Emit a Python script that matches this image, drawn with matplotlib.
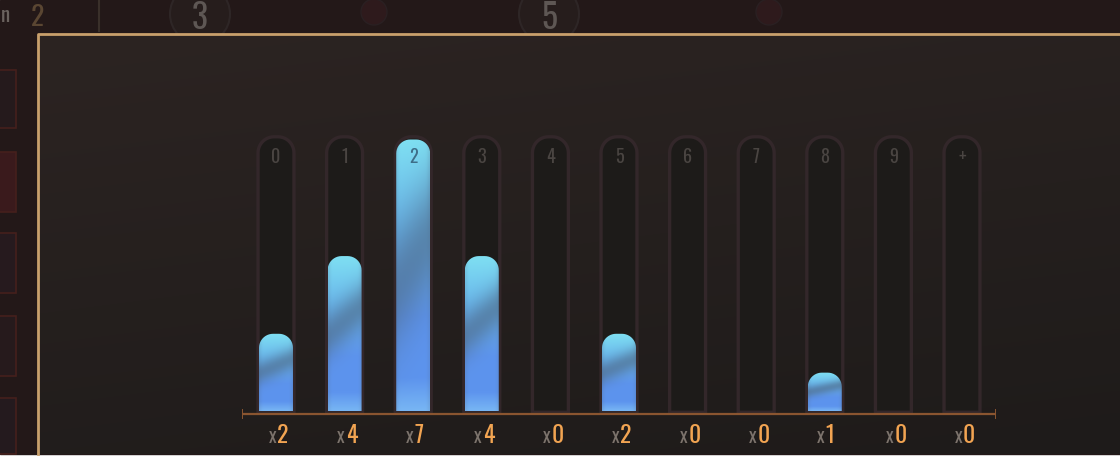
import numpy as np
import matplotlib
matplotlib.use("Agg")
import matplotlib.pyplot as plt
from matplotlib.patches import Polygon, Circle, Rectangle
from matplotlib.colors import to_rgb
import logging
logging.getLogger("matplotlib.font_manager").setLevel(logging.ERROR)

# mana curve data
costs = ["0", "1", "2", "3", "4", "5", "6", "7", "8", "9", "+"]
counts = [2, 4, 7, 4, 0, 2, 0, 0, 1, 0, 0]
max_count = max(counts)

W, H = 1120, 468
NARROW = ["Oswald", "Sofia Sans Extra Condensed", "DejaVu Sans"]

fig = plt.figure(figsize=(W / 100, H / 100), dpi=100)
fig.patch.set_facecolor("white")

# background layer in pixel coordinates
bg = fig.add_axes([0, 0, 1, 1])
bg.set_xlim(0, W)
bg.set_ylim(H, 0)
bg.axis("off")

bg.add_patch(Rectangle((0, 0), W, 454, color="#231818", zorder=0))

# left strip boxes (ui behind the panel)
for y0, y1, fc in [(70, 128, "#251a1c"), (152, 212, "#3a1a1c"), (233, 293, "#261a1e"),
                   (316, 376, "#261a1c"), (398, 454, "#241a1e")]:
    bg.add_patch(Rectangle((-2, y0), 18, y1 - y0, facecolor=fc, edgecolor="#45201c", lw=1.2, zorder=1))
bg.text(5, 15, "n", color="#6a625e", fontsize=15, ha="center", va="center", family=NARROW)
bg.text(38, 17, "2", color="#5a4632", fontsize=20, ha="center", va="center", family=NARROW)
bg.plot([99, 99], [0, 31], color="#3a302a", lw=1.5, zorder=1)

for cx, lab in [(200, "3"), (549, "5")]:
    bg.add_patch(Circle((cx, 14), 30, facecolor="#261d1c", edgecolor="#2e2626", lw=1.5, zorder=1))
    bg.text(cx, 18, lab, color="#5e5754", fontsize=24, fontweight="bold", ha="center", va="center",
            family=NARROW, zorder=2)
for cx in [374, 769]:
    bg.add_patch(Circle((cx, 12), 13, facecolor="#2e1a1c", edgecolor="#2a2022", lw=1, zorder=1))

# panel with soft shading
yy, xx = np.mgrid[0:1:120j, 0:1:200j]
top, bot = np.array(to_rgb("#2c2422")), np.array(to_rgb("#1e1b1a"))
shade = np.clip(yy * 0.75 + xx * 0.25, 0, 1)[..., None]
panel = top * (1 - shade) + bot * shade
bg.imshow(panel, extent=(38, W, 454, 34), aspect="auto", zorder=2, interpolation="bilinear")
bg.plot([37.5, 37.5, W], [454, 33.5, 33.5], color="#c9a06c", lw=2, zorder=3, solid_joinstyle="round")

# chart axes: category index on x, card count on y
px_x0, px_x1 = 241.7, 996.3
px_zero, px_top = 411.5, 139.5
yu = (px_zero - px_top) / max_count
ylo, yhi = -1.4, 7.5
ax = fig.add_axes([px_x0 / W, (H - (px_zero - ylo * yu)) / H,
                   (px_x1 - px_x0) / W, (yhi - ylo) * yu / H])
ax.set_xlim(-0.5, len(costs) - 0.5)
ax.set_ylim(ylo, yhi)
ax.axis("off")
ax.patch.set_alpha(0)
xu = (px_x1 - px_x0) / len(costs)


def rounded_top(xc, half_w, y0, y1, r_px=14):
    rx, ry = r_px / xu, min(r_px / yu, (y1 - y0))
    a = np.linspace(np.pi, np.pi / 2, 12)
    left = np.c_[xc - half_w + rx + rx * np.cos(a), y1 - ry + ry * np.sin(a)]
    b = np.linspace(np.pi / 2, 0, 12)
    right = np.c_[xc + half_w - rx + rx * np.cos(b), y1 - ry + ry * np.sin(b)]
    return np.vstack([[xc - half_w, y0], left, right, [xc + half_w, y0]])


def bar_image(n=220, m=40, band_at=0.38, band_w=0.16):
    t, u = np.mgrid[0:1:n * 1j, 0:1:m * 1j]
    cyan = np.array(to_rgb("#7fe0f2"))
    mid = np.array(to_rgb("#68b4ee"))
    blue = np.array(to_rgb("#5d94ee"))
    light = np.array(to_rgb("#78b6f4"))
    dark = np.array(to_rgb("#4e6a86"))
    k1 = np.clip(t / 0.35, 0, 1)[..., None]
    col = cyan * (1 - k1) + mid * k1
    k2 = np.clip((t - 0.35) / 0.3, 0, 1)[..., None]
    col = col * (1 - k2) + blue * k2
    kb = np.clip((t - 0.88) / 0.12, 0, 1)[..., None]
    col = col * (1 - kb) + light * kb
    c = band_at + 0.18 * (0.5 - u)
    band = (0.62 * np.exp(-((t - c) / band_w) ** 2))[..., None]
    col = col * (1 - band) + dark * band
    edge = (0.15 * np.exp(-(u / 0.07) ** 2) + 0.15 * np.exp(-((1 - u) / 0.07) ** 2))[..., None]
    return np.clip(col * (1 - edge) + dark * edge, 0, 1)


tube_hw = 0.262
bar_hw = 0.2475
for i, (lab, v) in enumerate(zip(costs, counts)):
    tube = Polygon(rounded_top(i, tube_hw, -0.02, max_count + 0.07, 16), closed=True,
                   facecolor="#1d1b19", edgecolor="#33272a", lw=2.4, zorder=2)
    ax.add_patch(tube)
    if v > 0:
        shape = Polygon(rounded_top(i, bar_hw, 0.0, v, 14), closed=True, facecolor="none",
                        edgecolor="none", zorder=3)
        ax.add_patch(shape)
        img = bar_image(band_at=0.45 if v == max_count else 0.42,
                        band_w=0.22 if v == max_count else 0.15)
        im = ax.imshow(img, extent=(i - bar_hw, i + bar_hw, 0.0, v), aspect="auto",
                       origin="upper", zorder=3, interpolation="bilinear")
        im.set_clip_path(shape)
    num_col = "#3e6e88" if v >= 6.6 else "#4a4542"
    ax.text(i, 6.56, lab, color=num_col, fontsize=13, ha="center", va="center",
            family=NARROW, zorder=4)
    ax.annotate("x", (i, -0.64), xytext=(0, 0), textcoords="offset pixels", ha="right",
                va="center", color="#7c736c", fontsize=14, family=NARROW, zorder=4)
    ax.annotate(str(v), (i, -0.64), xytext=(1, 1), textcoords="offset pixels", ha="left",
                va="center", color="#f2a452", fontsize=17, family=NARROW, zorder=4)

# baseline with end ticks
axis_y = -0.065
ax.plot([-0.5, len(costs) - 0.5], [axis_y, axis_y], color="#8a5530", lw=1.6, zorder=5,
        solid_capstyle="butt")
for xe in (-0.5, len(costs) - 0.5):
    ax.plot([xe, xe], [axis_y - 0.1, axis_y + 0.1], color="#8a5530", lw=1.4, zorder=5)

fig.savefig("out.png", dpi=100)
